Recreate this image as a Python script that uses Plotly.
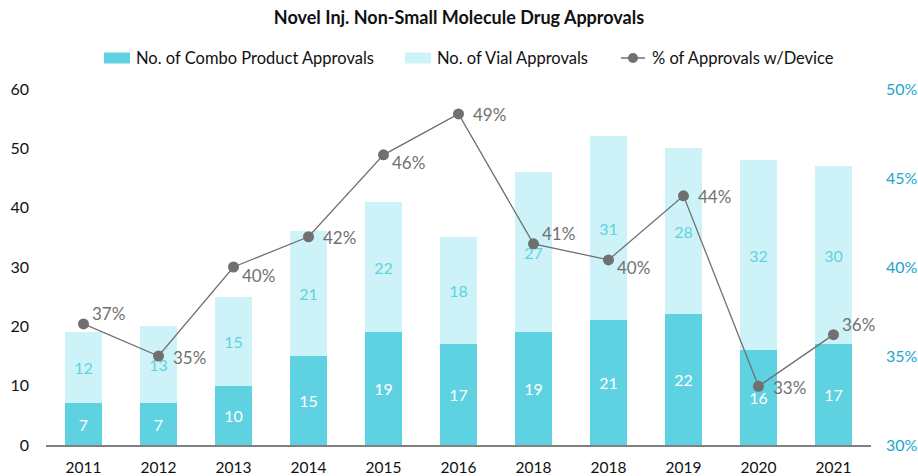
import plotly.graph_objects as go

years = ["2011", "2012", "2013", "2014", "2015", "2016", "2018", "2018", "2019", "2020", "2021"]
combo = [7, 7, 10, 15, 19, 17, 19, 21, 22, 16, 17]
vial = [12, 13, 15, 21, 22, 18, 27, 31, 28, 32, 30]
pct_device = [0.368, 0.350, 0.400, 0.417, 0.463, 0.486, 0.413, 0.404, 0.440, 0.333, 0.362]
pct_labels = ["37%", "35%", "40%", "42%", "46%", "49%", "41%", "40%", "44%", "33%", "36%"]
label_side = ["up", "mid", "down", "mid", "down", "mid", "up", "down", "mid", "mid", "up"]
series_names = ["No. of Combo Product Approvals", "No. of Vial Approvals", "% of Approvals w/Device"]

x = list(range(len(years)))
FONT = "Lato, 'Open Sans', sans-serif"
COMBO_C, VIAL_C, LINE_C = "#5fd2e1", "#cdf3f8", "#707070"
SHIFTS = {"up": (6, 10), "mid": (12, -1), "down": (6, -8)}

W, H = 918, 476
ML, MR, MT, MB = 46, 47, 89, 31
PW, PH = W - ML - MR, H - MT - MB


def px_x(px):
    return (px - ML) / PW


def px_y(py):
    return (H - MB - py) / PH


fig = go.Figure()
fig.add_trace(go.Bar(
    x=x, y=combo, name=series_names[0], showlegend=False,
    marker=dict(color=COMBO_C, line=dict(width=0)),
    text=[str(v) for v in combo], textposition="inside", insidetextanchor="middle",
    textfont=dict(color="white", size=16, family=FONT), constraintext="none",
    hoverinfo="skip",
))
fig.add_trace(go.Bar(
    x=x, y=vial, name=series_names[1], showlegend=False,
    marker=dict(color=VIAL_C, line=dict(width=0)),
    text=[str(v) for v in vial], textposition="inside", insidetextanchor="middle",
    textfont=dict(color=COMBO_C, size=16, family=FONT), constraintext="none",
    hoverinfo="skip",
))
fig.add_trace(go.Scatter(
    x=x, y=pct_device, name=series_names[2], yaxis="y2", showlegend=False,
    mode="lines+markers",
    line=dict(color=LINE_C, width=1.3),
    marker=dict(color=LINE_C, size=11),
    hoverinfo="skip",
))

for xi, yi, lab, side in zip(x, pct_device, pct_labels, label_side):
    dx, dy = SHIFTS[side]
    fig.add_annotation(x=xi, y=yi, xref="x", yref="y2", text=lab, showarrow=False,
                       xanchor="left", yanchor="middle", xshift=dx, yshift=dy,
                       font=dict(color=LINE_C, size=17, family=FONT))

# custom legend (wide swatches like the reference)
leg_y = px_y(58)
swatch_left = [104, 405]
for left, col, name in zip(swatch_left, [COMBO_C, VIAL_C], series_names[:2]):
    fig.add_shape(type="rect", xref="paper", yref="paper",
                  x0=px_x(left), x1=px_x(left + 26), y0=px_y(63.5), y1=px_y(52.5),
                  fillcolor=col, line=dict(width=0), layer="above")
    fig.add_annotation(xref="paper", yref="paper", x=px_x(left + 30), y=leg_y, text=name,
                       showarrow=False, xanchor="left", yanchor="middle",
                       font=dict(size=16.5, color="#111111", family=FONT))
fig.add_shape(type="line", xref="paper", yref="paper", x0=px_x(621), x1=px_x(645),
              y0=leg_y, y1=leg_y, line=dict(color=LINE_C, width=1.5))
fig.add_shape(type="circle", xref="paper", yref="paper",
              x0=px_x(628), x1=px_x(638), y0=px_y(63), y1=px_y(53),
              fillcolor=LINE_C, line=dict(width=0))
fig.add_annotation(xref="paper", yref="paper", x=px_x(650), y=leg_y, text=series_names[2],
                   showarrow=False, xanchor="left", yanchor="middle",
                   font=dict(size=16.5, color="#111111", family=FONT))

fig.update_layout(
    width=W, height=H,
    margin=dict(l=ML, r=MR, t=MT, b=MB, autoexpand=False),
    paper_bgcolor="white", plot_bgcolor="white",
    font=dict(family=FONT, size=15, color="#111111"),
    title=dict(text="<b>Novel Inj. Non-Small Molecule Drug Approvals</b>",
               x=0.5, xanchor="center", y=(H - 18) / H, yanchor="middle",
               font=dict(size=18, color="#111111", family=FONT)),
    barmode="stack", bargap=0.5,
    showlegend=False,
    hovermode=False,
    xaxis=dict(tickmode="array", tickvals=x, ticktext=years,
               range=[-0.5, len(years) - 0.5],
               showline=True, linecolor="#808080", linewidth=1.5,
               showgrid=False, zeroline=False, ticks="", ticklabelstandoff=8,
               tickfont=dict(size=15.5, color="#111111")),
    yaxis=dict(range=[0, 60], dtick=10, showgrid=False, zeroline=False, showline=False,
               ticks="", ticklabelstandoff=16, tickfont=dict(size=16, color="#111111")),
    yaxis2=dict(range=[0.30, 0.50], dtick=0.05, tickformat=".0%", overlaying="y", side="right",
                showgrid=False, zeroline=False, showline=False, ticks="", ticklabelstandoff=14,
                tickfont=dict(size=16, color="#1aa6cc")),
)

fig.write_html("out.html", config={"displayModeBar": False},
               post_script="document.body.style.margin='0px';")
